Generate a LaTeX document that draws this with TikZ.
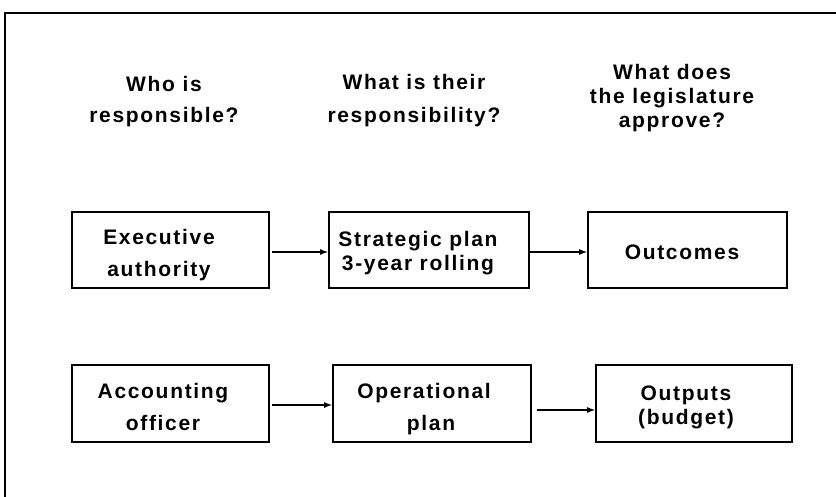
\documentclass[tikz,border=0pt]{standalone}
\usepackage{fontspec}
\setmainfont{Liberation Sans}[LetterSpace=8]
\usetikzlibrary{arrows.meta}
\begin{document}
\begin{tikzpicture}[x=1pt,y=-1pt,
  lbl/.style={font=\fontsize{21}{24}\selectfont\bfseries, align=center, inner sep=0pt},
  stepbox/.style={draw, line width=1.6pt, rectangle, inner sep=0pt},
  conn/.style={line width=1.4pt, -{Latex[length=8pt,width=6pt]}},
  frame/.style={line width=2.2pt}]
\useasboundingbox (0,0) rectangle (836,497);
% outer frame
\coordinate (ftr) at (836,13);
\coordinate (ftl) at (5,13);
\coordinate (fbl) at (5,497);
\draw[frame] (ftr) -- (ftl) -- (fbl);
% headings
\node[lbl] (h1) at (164,101.4) {Who is\\[7pt]responsible?};
\node[lbl] (h2) at (414,100.4) {What is their\\[9pt]responsibility?};
\node[lbl] (h3) at (672,97.9) {What does\\the legislature\\approve?};
% boxes row 1
\node[stepbox, minimum width=197pt, minimum height=76pt] (b1) at (170.5,250) {};
\node[stepbox, minimum width=200pt, minimum height=76pt] (b2) at (429,250) {};
\node[stepbox, minimum width=199pt, minimum height=76pt] (b3) at (687.5,250) {};
% boxes row 2
\node[stepbox, minimum width=197pt, minimum height=77pt] (b4) at (170.5,403.5) {};
\node[stepbox, minimum width=198pt, minimum height=77pt] (b5) at (432,403.5) {};
\node[stepbox, minimum width=196pt, minimum height=77pt] (b6) at (694,403.5) {};
% box texts
\node[lbl] (t1) at (159,254.9) {Executive\\[8pt]authority};
\node[lbl] (t2) at (418,252.9) {Strategic plan\\3-year rolling};
\node[lbl] (t3) at (682,252.75) {Outcomes};
\node[lbl] (t4) at (163,406.75) {Accounting\\[8pt]officer};
\node[lbl] (t5) at (424,408.9) {Operational\\[8pt]\hspace*{14pt}plan};
\node[lbl] (t6) at (686,407.4) {Outputs\\(budget)};
% connectors
\coordinate (a1s) at (272,252);
\coordinate (a2s) at (529,252);
\coordinate (a3s) at (272,405);
\coordinate (a4s) at (537,410);
\draw[conn] (a1s) -- (b2.west |- a1s);
\draw[conn] (b2.east |- a2s) -- (b3.west |- a2s);
\draw[conn] (a3s) -- (b5.west |- a3s);
\draw[conn] (a4s) -- (b6.west |- a4s);
\end{tikzpicture}
\end{document}
